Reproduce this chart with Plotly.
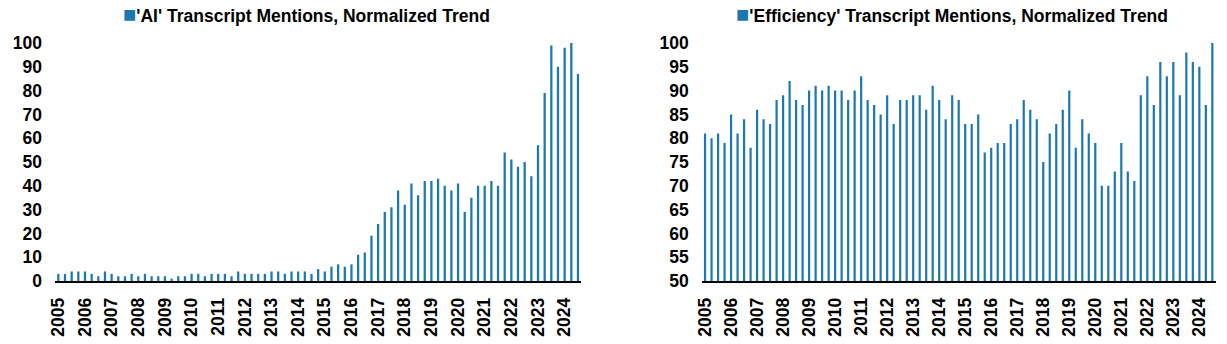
import plotly.graph_objects as go

years = list(range(2005, 2025))
quarters = ["Q1", "Q2", "Q3", "Q4"]
categories = [f"{y}{q}" for y in years for q in quarters][:79]

ai_values = [
    3, 3, 4, 4,
    4, 3, 2, 4,
    3, 2, 2, 3,
    2, 3, 2, 2,
    2, 1, 2, 2,
    3, 3, 2, 3,
    3, 3, 2, 4,
    3, 3, 3, 3,
    4, 4, 3, 4,
    4, 4, 3, 5,
    4, 6, 7, 6,
    7, 11, 12, 19,
    24, 29, 31, 38,
    32, 41, 36, 42,
    42, 43, 40, 38,
    41, 29, 35, 40,
    40, 42, 40, 54,
    51, 48, 50, 44,
    57, 79, 99, 90,
    98, 100, 87,
]

eff_values = [
    81, 80, 81, 79,
    85, 81, 84, 78,
    86, 84, 83, 88,
    89, 92, 88, 87,
    90, 91, 90, 91,
    90, 90, 88, 90,
    93, 88, 87, 85,
    89, 83, 88, 88,
    89, 89, 86, 91,
    88, 84, 89, 88,
    83, 83, 85, 77,
    78, 79, 79, 83,
    84, 88, 86, 84,
    75, 81, 83, 86,
    90, 78, 84, 81,
    79, 70, 70, 73,
    79, 73, 71, 89,
    93, 87, 96, 93,
    96, 89, 98, 96,
    95, 87, 100,
]

ai_ticks = list(range(0, 101, 10))
eff_ticks = list(range(50, 101, 5))
year_tickvals = [f"{y}Q1" for y in years]
year_ticktext = [str(y) for y in years]

BAR = "#1c78b0"
FONT = "Arial, Liberation Sans, sans-serif"
W, H = 1227, 344

fig = go.Figure()
fig.add_trace(go.Bar(x=categories, y=ai_values, marker=dict(color=BAR, line=dict(width=0)),
                     xaxis="x", yaxis="y", showlegend=False,
                     name="'AI' Transcript Mentions, Normalized Trend"))
fig.add_trace(go.Bar(x=categories, y=eff_values, marker=dict(color=BAR, line=dict(width=0)),
                     xaxis="x2", yaxis="y2", showlegend=False,
                     name="'Efficiency' Transcript Mentions, Normalized Trend"))

ydom = [(H - 281) / H, (H - 43) / H]
xcommon = dict(type="category", range=[-0.5, 78.5], tickmode="array",
               tickvals=year_tickvals, ticktext=year_ticktext, tickangle=-90,
               showline=True, linecolor="black", linewidth=1.5, ticks="",
               showgrid=False, zeroline=False, ticklabelstandoff=8, automargin=False,
               tickfont=dict(family=FONT, size=17.5, color="black", weight="bold"))
ycommon = dict(showgrid=False, zeroline=False, showline=False, ticks="",
               ticklabelstandoff=12, automargin=False,
               tickfont=dict(family=FONT, size=17.5, color="black", weight="bold"))

SQ = f"<span style='color:{BAR};font-size:22px'>■</span>"

fig.update_layout(
    width=W, height=H,
    margin=dict(l=0, r=0, t=0, b=0, autoexpand=False),
    paper_bgcolor="white", plot_bgcolor="white",
    bargap=0.66,
    xaxis=dict(domain=[55 / W, 581.3 / W], anchor="y", **xcommon),
    yaxis=dict(domain=ydom, range=[0, 100], tickvals=ai_ticks, anchor="x", **ycommon),
    xaxis2=dict(domain=[701.8 / W, 1215.6 / W], anchor="y2", **xcommon),
    yaxis2=dict(domain=ydom, range=[50, 100], tickvals=eff_ticks, anchor="x2", **ycommon),
    annotations=[
        dict(text=SQ + "'AI' Transcript Mentions, Normalized Trend",
             x=306 / W, y=(H - 15) / H, xref="paper", yref="paper",
             xanchor="center", yanchor="middle", showarrow=False,
             font=dict(family=FONT, size=17.5, color="black", weight="bold")),
        dict(text=SQ + "'Efficiency' Transcript Mentions, Normalized Trend",
             x=952 / W, y=(H - 15) / H, xref="paper", yref="paper",
             xanchor="center", yanchor="middle", showarrow=False,
             font=dict(family=FONT, size=17.5, color="black", weight="bold")),
    ],
)

fig.write_html("out.html")
